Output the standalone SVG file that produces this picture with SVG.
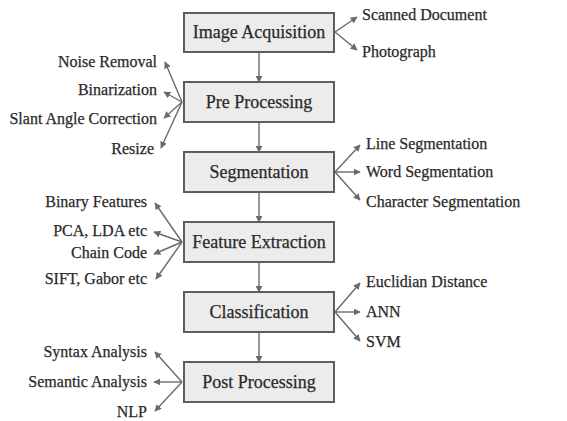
<svg xmlns="http://www.w3.org/2000/svg" width="567" height="421" viewBox="0 0 567 421">
<style>
.box{fill:#ececec;stroke:#5e5e5e;stroke-width:2}
.t{font-family:"Liberation Serif","DejaVu Serif",serif;fill:#2a2a2a;stroke:#2a2a2a;stroke-width:0.25}
.bt{font-size:18px;text-anchor:middle}
.lt{font-size:16px}
.r{text-anchor:end}
.c{stroke:#6a6a6a;stroke-width:1.4;fill:none;marker-end:url(#ah)}
</style>
<defs>
<marker id="ah" viewBox="0 0 10 10" refX="9" refY="5" markerWidth="5" markerHeight="5" orient="auto">
<path d="M0,0 L10,5 L0,10 z" fill="#6a6a6a"/>
</marker>
</defs>
<rect width="567" height="421" fill="#ffffff"/>
<g id="connectors">
<path class="c" d="M259,52 V82"/>
<path class="c" d="M259,122 V152"/>
<path class="c" d="M259,192 V222"/>
<path class="c" d="M259,262 V292"/>
<path class="c" d="M259,332 V362"/>
<path class="c" d="M335,32 L357,17"/>
<path class="c" d="M335,32 L357,50"/>
<path class="c" d="M182,102 L165,62"/>
<path class="c" d="M182,102 L164,92"/>
<path class="c" d="M182,102 L164,118"/>
<path class="c" d="M182,102 L161,148"/>
<path class="c" d="M335,172 L360,145"/>
<path class="c" d="M335,172 L360,172"/>
<path class="c" d="M335,172 L360,200"/>
<path class="c" d="M182,242 L155,203"/>
<path class="c" d="M182,242 L154,232"/>
<path class="c" d="M182,242 L154,254"/>
<path class="c" d="M182,242 L156,279"/>
<path class="c" d="M335,312 L360,283"/>
<path class="c" d="M335,312 L360,312"/>
<path class="c" d="M335,312 L360,341"/>
<path class="c" d="M182,382 L155,352"/>
<path class="c" d="M182,382 L154,382"/>
<path class="c" d="M182,382 L155,411"/>
</g>
<g id="n1"><rect class="box" x="184" y="13" width="150" height="39"/><text class="t bt" x="259" y="38">Image Acquisition</text></g>
<g id="n2"><rect class="box" x="184" y="82" width="150" height="40"/><text class="t bt" x="259" y="108">Pre Processing</text></g>
<g id="n3"><rect class="box" x="184" y="152" width="150" height="40"/><text class="t bt" x="259" y="178">Segmentation</text></g>
<g id="n4"><rect class="box" x="184" y="222" width="150" height="40"/><text class="t bt" x="259" y="248">Feature Extraction</text></g>
<g id="n5"><rect class="box" x="184" y="292" width="150" height="40"/><text class="t bt" x="259" y="318">Classification</text></g>
<g id="n6"><rect class="box" x="184" y="362" width="150" height="40"/><text class="t bt" x="259" y="388">Post Processing</text></g>
<g id="l1"><text class="t lt" x="362" y="20">Scanned Document</text></g>
<g id="l2"><text class="t lt" x="362" y="57">Photograph</text></g>
<g id="l3"><text class="t lt r" x="157" y="67">Noise Removal</text></g>
<g id="l4"><text class="t lt r" x="157" y="95">Binarization</text></g>
<g id="l5"><text class="t lt r" x="157" y="124">Slant Angle Correction</text></g>
<g id="l6"><text class="t lt r" x="154" y="154">Resize</text></g>
<g id="l7"><text class="t lt" x="366" y="149">Line Segmentation</text></g>
<g id="l8"><text class="t lt" x="366" y="177">Word Segmentation</text></g>
<g id="l9"><text class="t lt" x="366" y="207">Character Segmentation</text></g>
<g id="l10"><text class="t lt r" x="147" y="207">Binary Features</text></g>
<g id="l11"><text class="t lt r" x="147" y="236">PCA, LDA etc</text></g>
<g id="l12"><text class="t lt r" x="147" y="258">Chain Code</text></g>
<g id="l13"><text class="t lt r" x="147" y="284">SIFT, Gabor etc</text></g>
<g id="l14"><text class="t lt" x="366" y="287">Euclidian Distance</text></g>
<g id="l15"><text class="t lt" x="366" y="317">ANN</text></g>
<g id="l16"><text class="t lt" x="366" y="347">SVM</text></g>
<g id="l17"><text class="t lt r" x="147" y="357">Syntax Analysis</text></g>
<g id="l18"><text class="t lt r" x="147" y="387">Semantic Analysis</text></g>
<g id="l19"><text class="t lt r" x="147" y="417">NLP</text></g>
</svg>
